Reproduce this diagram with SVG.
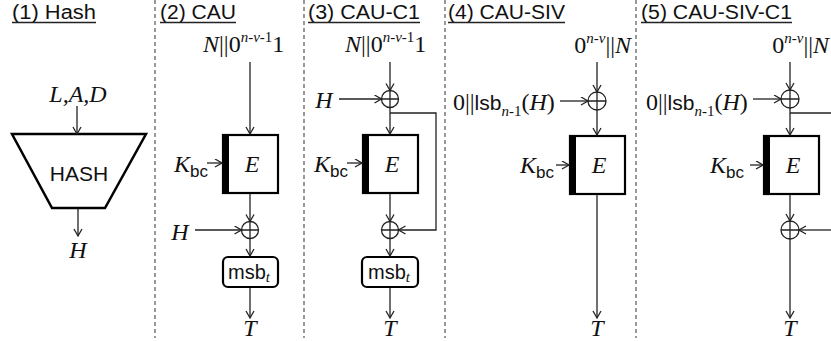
<svg xmlns="http://www.w3.org/2000/svg" width="831" height="341" viewBox="0 0 831 341">
<style>
.title{font-family:"Liberation Sans","Open Sans",sans-serif;font-size:20px;fill:#111}
.ul{stroke:#222;stroke-width:1.3}
.div{stroke:#555;stroke-width:1.2;stroke-dasharray:4 3}
.m{font-family:"Liberation Serif","DejaVu Serif",serif;font-size:24px;fill:#111}
.i{font-style:italic}
.s{font-family:"Liberation Sans","Open Sans",sans-serif}
.sup{font-size:15px}
.box{fill:#fff;stroke:#000;stroke-width:2.2}
.bar{fill:#000}
.x{fill:#fff;stroke:#222;stroke-width:1.3}
.c{fill:none;stroke:#222;stroke-width:1.3}
.ca{fill:none;stroke:#222;stroke-width:1.3;marker-end:url(#ah)}
</style>
<defs>
<marker id="ah" markerWidth="10" markerHeight="10" refX="8" refY="4.5" orient="auto" markerUnits="userSpaceOnUse">
<path d="M1,0.5 L8,4.5 L1,8.5" fill="none" stroke="#222" stroke-width="1.3"/>
</marker>
</defs>
<rect width="831" height="341" fill="#fff"/>

<g id="dividers">
<line class="div" x1="155" y1="0" x2="155" y2="338"/>
<line class="div" x1="304" y1="0" x2="304" y2="338"/>
<line class="div" x1="445" y1="0" x2="445" y2="338"/>
<line class="div" x1="636" y1="0" x2="636" y2="338"/>
</g>

<g id="titles">
<text class="title" x="12" y="19" textLength="84" lengthAdjust="spacingAndGlyphs">(1) Hash</text>
<line class="ul" x1="12" y1="22.5" x2="96" y2="22.5"/>
<text class="title" x="160" y="19" textLength="76" lengthAdjust="spacingAndGlyphs">(2) CAU</text>
<line class="ul" x1="160" y1="22.5" x2="236" y2="22.5"/>
<text class="title" x="308" y="19" textLength="112" lengthAdjust="spacingAndGlyphs">(3) CAU-C1</text>
<line class="ul" x1="308" y1="22.5" x2="420" y2="22.5"/>
<text class="title" x="448" y="19" textLength="117" lengthAdjust="spacingAndGlyphs">(4) CAU-SIV</text>
<line class="ul" x1="448" y1="22.5" x2="565" y2="22.5"/>
<text class="title" x="641" y="19" textLength="151" lengthAdjust="spacingAndGlyphs">(5) CAU-SIV-C1</text>
<line class="ul" x1="641" y1="22.5" x2="792" y2="22.5"/>
</g>

<!-- (1) Hash -->
<g id="hash-in"><text class="m i" x="78" y="102" text-anchor="middle">L,A,D</text></g>
<g id="hash">
<polygon points="12,134 146,134 105,208 52,208" fill="#fff" stroke="#000" stroke-width="2.5"/>
<text class="s" x="79" y="181" font-size="21" text-anchor="middle" fill="#111">HASH</text>
</g>
<g id="hash-out"><text class="m i" x="78" y="258" text-anchor="middle">H</text></g>

<!-- (2) CAU -->
<g id="cau-in"><text class="m" x="203" y="52"><tspan class="i">N</tspan>||0<tspan class="sup i" dy="-10">n</tspan><tspan class="sup">-</tspan><tspan class="sup i">ν</tspan><tspan class="sup">-1</tspan><tspan dy="10">1</tspan></text></g>
<g id="cau-E">
<rect class="box" x="223" y="135" width="55" height="58"/>
<rect class="bar" x="223" y="135" width="6" height="58"/>
<text class="m i" x="252" y="172" text-anchor="middle">E</text>
</g>
<g id="cau-K"><text class="m" x="174" y="172"><tspan class="i">K</tspan><tspan class="s" font-size="17" dy="5">bc</tspan></text></g>
<g id="cau-xor"><circle class="x" cx="250" cy="230" r="8.5"/><path class="c" d="M241.5,230H258.5M250,221.5V238.5"/></g>
<g id="cau-H"><text class="m i" x="180" y="240" text-anchor="middle">H</text></g>
<g id="cau-msb">
<rect class="box" x="223" y="257" width="55" height="30" rx="5"/>
<text x="249" y="279" text-anchor="middle"><tspan class="s" font-size="20" fill="#111">msb</tspan><tspan class="m i sup" dy="3">t</tspan></text>
</g>
<g id="cau-T"><text class="m i" x="250" y="336" text-anchor="middle">T</text></g>

<!-- (3) CAU-C1 -->
<g id="c1-in"><text class="m" x="345" y="52"><tspan class="i">N</tspan>||0<tspan class="sup i" dy="-10">n</tspan><tspan class="sup">-</tspan><tspan class="sup i">ν</tspan><tspan class="sup">-1</tspan><tspan dy="10">1</tspan></text></g>
<g id="c1-H"><text class="m i" x="324" y="108" text-anchor="middle">H</text></g>
<g id="c1-xor1"><circle class="x" cx="390" cy="99" r="8.5"/><path class="c" d="M381.5,99H398.5M390,90.5V107.5"/></g>
<g id="c1-E">
<rect class="box" x="363" y="135" width="55" height="58"/>
<rect class="bar" x="363" y="135" width="6" height="58"/>
<text class="m i" x="392" y="172" text-anchor="middle">E</text>
</g>
<g id="c1-K"><text class="m" x="314" y="172"><tspan class="i">K</tspan><tspan class="s" font-size="17" dy="5">bc</tspan></text></g>
<g id="c1-xor2"><circle class="x" cx="390" cy="230" r="8.5"/><path class="c" d="M381.5,230H398.5M390,221.5V238.5"/></g>
<g id="c1-msb">
<rect class="box" x="362" y="257" width="56" height="30" rx="5"/>
<text x="389" y="279" text-anchor="middle"><tspan class="s" font-size="20" fill="#111">msb</tspan><tspan class="m i sup" dy="3">t</tspan></text>
</g>
<g id="c1-T"><text class="m i" x="390" y="336" text-anchor="middle">T</text></g>

<!-- (4) CAU-SIV -->
<g id="siv-in"><text class="m" x="631" y="53" text-anchor="end">0<tspan class="sup i" dy="-10">n</tspan><tspan class="sup">-</tspan><tspan class="sup i">ν</tspan><tspan dy="10">||</tspan><tspan class="i">N</tspan></text></g>
<g id="siv-lsb"><text class="m" x="453" y="110">0||<tspan class="s" font-size="21">lsb</tspan><tspan class="sup i" dy="6">n</tspan><tspan class="sup">-1</tspan><tspan dy="-6">(</tspan><tspan class="i">H</tspan>)</text></g>
<g id="siv-xor"><circle class="x" cx="597" cy="101" r="9"/><path class="c" d="M588,101H606M597,92V110"/></g>
<g id="siv-E">
<rect class="box" x="570" y="136" width="55" height="58"/>
<rect class="bar" x="570" y="136" width="6" height="58"/>
<text class="m i" x="599" y="173" text-anchor="middle">E</text>
</g>
<g id="siv-K"><text class="m" x="520" y="173"><tspan class="i">K</tspan><tspan class="s" font-size="17" dy="5">bc</tspan></text></g>
<g id="siv-T"><text class="m i" x="597" y="336" text-anchor="middle">T</text></g>

<!-- (5) CAU-SIV-C1 -->
<g id="sivc1-in"><text class="m" x="829" y="53" text-anchor="end">0<tspan class="sup i" dy="-10">n</tspan><tspan class="sup">-</tspan><tspan class="sup i">ν</tspan><tspan dy="10">||</tspan><tspan class="i">N</tspan></text></g>
<g id="sivc1-lsb"><text class="m" x="646" y="110">0||<tspan class="s" font-size="21">lsb</tspan><tspan class="sup i" dy="6">n</tspan><tspan class="sup">-1</tspan><tspan dy="-6">(</tspan><tspan class="i">H</tspan>)</text></g>
<g id="sivc1-xor1"><circle class="x" cx="790" cy="99" r="9"/><path class="c" d="M781,99H799M790,90V108"/></g>
<g id="sivc1-E">
<rect class="box" x="764" y="136" width="55" height="58"/>
<rect class="bar" x="764" y="136" width="6" height="58"/>
<text class="m i" x="793" y="173" text-anchor="middle">E</text>
</g>
<g id="sivc1-K"><text class="m" x="710" y="173"><tspan class="i">K</tspan><tspan class="s" font-size="17" dy="5">bc</tspan></text></g>
<g id="sivc1-xor2"><circle class="x" cx="790" cy="230" r="9"/><path class="c" d="M781,230H799M790,221V239"/></g>
<g id="sivc1-T"><text class="m i" x="790" y="336" text-anchor="middle">T</text></g>

<g id="connectors">
<line class="ca" x1="77" y1="106" x2="77" y2="134"/>
<line class="ca" x1="78" y1="209" x2="78" y2="236"/>

<line class="ca" x1="250" y1="62" x2="250" y2="134"/>
<line class="ca" x1="207" y1="163" x2="222" y2="163"/>
<line class="ca" x1="250" y1="194" x2="250" y2="221.5"/>
<line class="ca" x1="195" y1="230" x2="241.5" y2="230"/>
<line class="ca" x1="250" y1="238.5" x2="250" y2="256"/>
<line class="ca" x1="250" y1="288" x2="250" y2="318"/>

<line class="ca" x1="390" y1="62" x2="390" y2="90.5"/>
<line class="ca" x1="339" y1="99" x2="381.5" y2="99"/>
<line class="ca" x1="390" y1="107.5" x2="390" y2="134"/>
<line class="ca" x1="347" y1="163" x2="362" y2="163"/>
<path class="ca" d="M390,113H436V230H398.5"/>
<line class="ca" x1="390" y1="194" x2="390" y2="221.5"/>
<line class="ca" x1="390" y1="238.5" x2="390" y2="256"/>
<line class="ca" x1="390" y1="288" x2="390" y2="318"/>

<line class="ca" x1="597" y1="62" x2="597" y2="92"/>
<line class="ca" x1="560" y1="101" x2="588" y2="101"/>
<line class="ca" x1="597" y1="110" x2="597" y2="135"/>
<line class="ca" x1="556" y1="165" x2="569" y2="165"/>
<line class="ca" x1="597" y1="195" x2="597" y2="318"/>

<line class="ca" x1="790" y1="62" x2="790" y2="90"/>
<line class="ca" x1="753" y1="99" x2="781" y2="99"/>
<line class="c" x1="790" y1="113" x2="831" y2="113"/>
<line class="ca" x1="790" y1="108" x2="790" y2="135"/>
<line class="ca" x1="750" y1="165" x2="763" y2="165"/>
<line class="ca" x1="790" y1="195" x2="790" y2="221"/>
<line class="ca" x1="831" y1="230" x2="799" y2="230"/>
<line class="ca" x1="790" y1="239" x2="790" y2="318"/>
</g>
</svg>
